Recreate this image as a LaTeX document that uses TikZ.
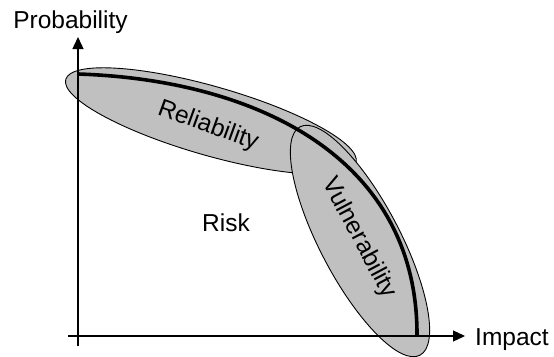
\documentclass[tikz,border=0pt]{standalone}
\usepackage{fontspec}
\setmainfont{Liberation Sans}
\usetikzlibrary{arrows.meta,shapes.geometric}
\definecolor{fillgray}{RGB}{192,192,192}
\begin{document}
\begin{tikzpicture}[x=1pt,y=-1pt,
  blob/.style={ellipse, draw=black, line width=0.9pt, fill=fillgray, inner sep=0pt},
  axisline/.style={line width=1.3pt, -{Triangle[length=12pt,width=11pt]}},
  curveline/.style={line width=3.6pt},
  lbl/.style={font=\fontsize{24.5}{29}\selectfont, inner sep=0pt}]
\useasboundingbox (0,0) rectangle (554,356);
% ellipses
\node[blob, minimum width=302pt, minimum height=69pt, rotate=-16] (rel) at (210.9,121) {};
\node[blob, minimum width=258pt, minimum height=80pt, rotate=-62.3] (vul) at (360,241) {};
% labels in ellipses
\node[lbl, rotate=-20] (reltext) at (208,126) {Reliability};
\node[lbl, rotate=-62] (vultext) at (359,238) {Vulnerability};
% curve
\coordinate (c0) at (78,74);
\coordinate (c1) at (417,336);
\draw[curveline] (c0) .. controls (260,80) and (418,160) .. (c1);
% axes
\coordinate (yb) at (78,346);
\coordinate (yt) at (78,37);
\coordinate (xl) at (68,336);
\coordinate (xr) at (465,336);
\draw[axisline] (yb) -- (yt);
\draw[axisline] (xl) -- (xr);
% axis labels
\node[lbl, anchor=base] (prob) at (70.5,28.3) {Probability};
\node[lbl, anchor=base west] (imp) at (475,345) {Impact};
\node[lbl, anchor=base] (risk) at (226,231.7) {Risk};
\end{tikzpicture}
\end{document}
